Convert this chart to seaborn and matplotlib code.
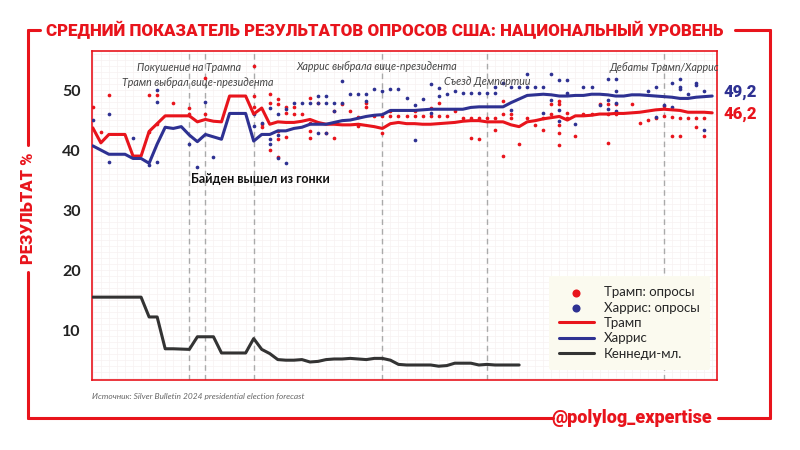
import numpy as np
import pandas as pd
import matplotlib.pyplot as plt
import seaborn as sns
from matplotlib.lines import Line2D

# ======================
# Data (day 0 = 1 July 2024)
# ======================
trump_avg = [43.7, 41.2, 42.6, 42.6, 42.6, 39.0, 39.0, 43.1, 44.4, 45.7,
             45.7, 45.7, 45.7, 44.7, 45.1, 44.8, 44.7, 49.0, 49.0, 49.0,
             46.0, 47.0, 44.3, 44.7, 44.6, 44.6, 44.8, 45.1, 44.6, 44.3,
             44.3, 44.2, 44.2, 44.3, 44.1, 43.9, 43.6, 44.4, 44.6, 44.4,
             44.4, 44.3, 44.3, 44.4, 44.5, 44.6, 44.8, 44.9, 44.9, 44.7,
             44.7, 44.7, 44.2, 43.9, 44.7, 44.9, 45.2, 45.4, 45.6, 45.0,
             45.7, 45.7, 45.8, 46.0, 46.0, 46.1, 46.1, 46.2, 46.3, 46.5,
             46.7, 46.8, 46.7, 46.6, 46.3, 46.3, 46.3, 46.2]

harris_avg = [40.7, 40.0, 39.3, 39.3, 39.3, 38.6, 38.6, 37.8, 41.0, 43.8,
              43.6, 43.9, 42.5, 41.4, 42.6, 42.2, 41.8, 46.1, 46.1, 46.1,
              41.5, 42.6, 42.6, 43.2, 43.2, 43.6, 43.8, 44.3, 44.3, 44.3,
              44.6, 44.9, 45.0, 45.3, 45.6, 45.8, 45.9, 46.6, 46.6, 46.6,
              46.6, 46.7, 46.8, 46.8, 46.8, 46.8, 46.8, 47.1, 47.2, 47.2,
              47.2, 47.2, 47.9, 48.5, 49.1, 49.2, 49.3, 49.2, 49.0, 49.0,
              49.1, 49.1, 49.3, 49.3, 49.2, 49.0, 49.0, 49.2, 49.2, 49.1,
              49.0, 48.9, 48.8, 48.6, 48.6, 48.8, 48.9, 49.0]

kennedy_avg = [15.5, 15.5, 15.5, 15.5, 15.5, 15.5, 15.5, 12.2, 12.2, 6.9,
               6.9, 6.85, 6.8, 8.9, 8.9, 8.9, 6.2, 6.2, 6.2, 6.2,
               8.6, 6.8, 6.1, 5.1, 5.0, 5.0, 5.1, 4.7, 4.8, 5.1,
               5.2, 5.2, 5.3, 5.2, 5.1, 5.3, 5.3, 5.0, 4.3, 4.2,
               4.2, 4.2, 4.2, 4.0, 4.1, 4.5, 4.5, 4.5, 4.2, 4.3,
               4.2, 4.2, 4.2, 4.2]

trump_poll_day = [0, 1, 2, 7, 7, 8, 8, 10, 12, 12, 14, 14, 20, 20, 20, 21, 21,
                  22, 22, 22, 23, 23, 23, 23, 23, 24, 24, 24, 25, 25, 26,
                  27, 27, 27, 27, 28, 29, 30, 30, 31, 32, 33, 33, 34, 34,
                  35, 36, 36, 37, 37, 38, 39, 40, 40, 41, 42, 42, 43, 43,
                  44, 45, 46, 47, 47, 48, 48, 49, 50, 50, 51, 51, 51, 52,
                  52, 53, 54, 55, 56, 56, 57, 57, 58, 58, 58, 58, 58, 59,
                  59, 60, 61, 62, 63, 64, 64, 64, 65, 65, 67, 68, 69, 70,
                  71, 71, 72, 72, 73, 73, 74, 75, 75, 76, 76]
trump_poll_val = [47.1, 43.0, 49.1, 49.1, 43.0, 49.1, 44.4, 47.9, 46.0, 47.0,
                  52.0, 46.0, 54.0, 47.1, 49.0, 44.4, 43.8, 49.3, 47.9, 40.0,
                  48.5, 47.6, 43.2, 41.8, 38.8, 47.1, 46.2, 42.1, 47.1, 46.0,
                  46.0, 48.7, 44.5, 43.1, 42.0, 47.9, 42.9, 42.0, 46.5, 47.6,
                  46.5, 45.5, 44.0, 47.9, 47.1, 45.6, 45.6, 42.9, 46.5, 45.6,
                  45.6, 45.6, 46.5, 45.6, 45.6, 47.0, 45.6, 47.9, 45.6, 45.6,
                  46.5, 45.3, 45.3, 42.0, 41.9, 45.3, 45.3, 43.4, 45.4, 48.1,
                  46.0, 39.0, 46.0, 45.4, 41.0, 45.3, 44.2, 43.4, 45.3, 47.6,
                  46.0, 48.2, 47.6, 44.2, 42.8, 40.9, 45.3, 46.2, 42.4, 46.0,
                  46.0, 47.6, 46.0, 41.1, 47.6, 47.6, 46.0, 47.6, 44.5, 45.0,
                  45.3, 47.3, 45.6, 45.5, 42.4, 45.3, 42.4, 45.3, 45.3, 43.9,
                  42.4, 45.3]

harris_poll_day = [0, 2, 2, 5, 7, 8, 8, 8, 12, 13, 14, 15, 20, 20, 21, 22, 22,
                   22, 23, 23, 23, 24, 24, 25, 26, 27, 28, 28, 28, 29, 29,
                   29, 30, 30, 31, 31, 32, 33, 34, 34, 35, 36, 37, 38, 39,
                   40, 40, 41, 42, 42, 43, 43, 44, 45, 46, 47, 48, 49, 50,
                   50, 51, 52, 52, 53, 54, 54, 55, 56, 56, 57, 57, 58, 58,
                   58, 59, 59, 60, 61, 62, 63, 64, 64, 64, 65, 65, 65, 65,
                   69, 70, 70, 71, 72, 72, 73, 73, 73, 74, 75, 75, 76, 76]
harris_poll_val = [45.0, 46.0, 38.0, 42.0, 37.5, 48.0, 50.0, 38.0, 41.0, 37.2,
                   48.0, 38.9, 46.0, 44.0, 44.5, 47.0, 41.0, 41.8, 46.0, 42.5,
                   38.7, 37.9, 46.8, 47.9, 47.9, 47.9, 49.0, 47.9, 42.9, 47.9,
                   49.0, 42.9, 47.9, 46.5, 51.5, 47.9, 49.3, 49.3, 49.3, 48.1,
                   50.1, 49.8, 50.1, 50.1, 48.6, 41.6, 47.5, 48.5, 51.0, 46.1,
                   50.4, 49.0, 49.3, 49.8, 49.5, 49.5, 49.5, 49.5, 50.5, 49.5,
                   51.2, 50.5, 46.6, 50.5, 52.7, 50.5, 50.5, 50.5, 46.2, 52.7,
                   48.3, 51.6, 46.6, 44.9, 51.6, 49.5, 44.3, 50.5, 50.5, 47.5,
                   51.8, 48.3, 46.9, 51.8, 49.9, 47.9, 46.5, 49.8, 50.5, 45.5,
                   47.5, 51.2, 47.1, 51.8, 50.5, 50.1, 49.3, 51.2, 50.9, 49.8,
                   43.4]

event_days = [12, 14, 20, 36, 49, 71]

RED = "#e8141c"
BLUE = "#2e3192"
DARK = "#333333"

avg_df = pd.DataFrame({"day": np.arange(len(trump_avg)),
                       "trump": trump_avg, "harris": harris_avg})
rfk_df = pd.DataFrame({"day": np.arange(len(kennedy_avg)), "kennedy": kennedy_avg})

# ======================
# Figure
# ======================
sns.set_theme(style="white")
plt.rcParams["font.family"] = ["Lato", "DejaVu Sans"]

fig = plt.figure(figsize=(8, 4.5), dpi=100)
ax = fig.add_axes([92 / 800, 1 - 380 / 450, (717 - 92) / 800, (380 - 51) / 450])

for d in event_days:
    ax.axvline(d, color="#aaaaaa", ls=(0, (4, 3)), lw=1, zorder=1)

sns.scatterplot(x=trump_poll_day, y=trump_poll_val, color=RED, s=7,
                linewidth=0, ax=ax, label="Трамп: опросы", zorder=3)
sns.scatterplot(x=harris_poll_day, y=harris_poll_val, color=BLUE, s=7,
                linewidth=0, ax=ax, label="Харрис: опросы", zorder=3)
sns.lineplot(data=avg_df, x="day", y="trump", color=RED, lw=2.2, ax=ax,
             label="Трамп", zorder=4)
sns.lineplot(data=avg_df, x="day", y="harris", color=BLUE, lw=2.2, ax=ax,
             label="Харрис", zorder=4)
sns.lineplot(data=rfk_df, x="day", y="kennedy", color=DARK, lw=2.2, ax=ax,
             label="Кеннеди-мл.", zorder=4)

ax.set_xlim(-0.1, 77.6)
ax.set_ylim(1.7, 56.5)
ax.set_xticks([])
ax.set_xticks(np.arange(0, 78, 1), minor=True)
ax.set_yticks([10, 20, 30, 40, 50])
ax.set_yticks(np.arange(2, 57, 1), minor=True)
ax.grid(which="both", color="#f7f2f2", lw=0.5)
ax.tick_params(which="both", length=0, pad=8)
ax.tick_params(axis="y", labelsize=11.5, labelcolor="#222222")
for lab in ax.get_yticklabels():
    lab.set_fontweight("bold")
ax.set_xlabel("")
ax.set_ylabel("")
for sp in ax.spines.values():
    sp.set_color(RED)
    sp.set_linewidth(1.2)

leg = ax.legend(loc="lower right", bbox_to_anchor=(1.0, 0.01), fontsize=9.5,
                frameon=True, facecolor="#fbfaef", edgecolor="none",
                framealpha=1, markerscale=2.2, handlelength=2.6,
                labelspacing=0.25, borderpad=0.8)

# event notes
note = dict(style="italic", fontsize=7.7, color="#444444", ha="center", va="center")
ax.text(12, 53.8, "Покушение на Трампа", **note)
ax.text(13, 51.2, "Трамп выбрал вице-президента", **note)
ax.text(35.3, 54.0, "Харрис выбрала вице-президента", **note)
ax.text(49, 51.5, "Съезд Демпартии", **note)
ax.text(71, 53.7, "Дебаты Трамп/Харрис", **note)
ax.text(12.2, 35.2, "Байден вышел из гонки", fontsize=9, fontweight="bold",
        color="#111111", ha="left", va="center")

ax.text(78.4, 49.7, "49,2", color=BLUE, fontsize=12, fontweight="heavy",
        ha="left", va="center", clip_on=False, family=["Roboto", "DejaVu Sans"])
ax.text(78.4, 46.0, "46,2", color=RED, fontsize=12, fontweight="heavy",
        ha="left", va="center", clip_on=False, family=["Roboto", "DejaVu Sans"])

# ======================
# Outer frame and captions
# ======================
def seg(x0, y0, x1, y1):
    fig.add_artist(Line2D([x0 / 800, x1 / 800], [1 - y0 / 450, 1 - y1 / 450],
                          transform=fig.transFigure, color=RED, lw=2.2))

seg(28, 30, 40, 30)
seg(735, 30, 770, 30)
seg(28, 30, 28, 145)
seg(28, 272, 28, 418)
seg(28, 418, 553, 418)
seg(718, 418, 770, 418)
seg(770, 30, 770, 418)

fig.text(46 / 800, 1 - 30 / 450,
         "СРЕДНИЙ ПОКАЗАТЕЛЬ РЕЗУЛЬТАТОВ ОПРОСОВ США: НАЦИОНАЛЬНЫЙ УРОВЕНЬ",
         ha="left", va="center", fontsize=12.2, fontweight="heavy", color=RED,
         family=["Roboto", "DejaVu Sans"])
fig.text(28 / 800, 1 - 208 / 450, "РЕЗУЛЬТАТ %", rotation=90, ha="center",
         va="center", fontsize=12, fontweight="heavy", color=RED,
         family=["Roboto", "DejaVu Sans"])
fig.text(92 / 800, 1 - 397 / 450,
         "Источник: Silver Bulletin 2024 presidential election forecast",
         ha="left", va="center", fontsize=6, style="italic", color="#666666")
fig.text(712 / 800, 1 - 418 / 450, "@polylog_expertise", ha="right",
         va="center", fontsize=13, fontweight="heavy", color=RED,
         family=["Roboto", "DejaVu Sans"])

fig.savefig("out.png", dpi=100)
